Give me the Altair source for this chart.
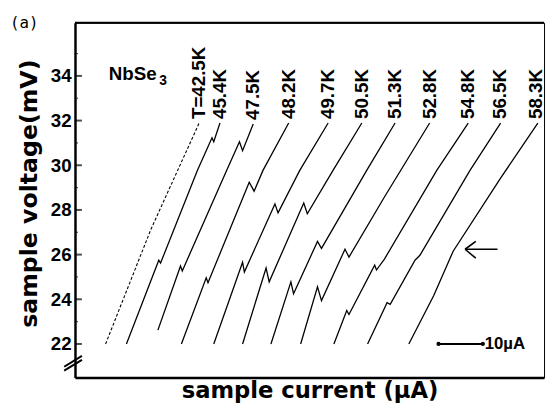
import altair as alt
import pandas as pd

FONT = "Liberation Sans"
TFONT = "DejaVu Sans"

temps = ["T=42.5K", "45.4K", "47.5K", "48.2K", "49.7K", "50.5K",
         "51.3K", "52.8K", "54.8K", "56.5K", "58.3K"]

# sample current (uA, from the left frame) and sample voltage (mV)
I_425 = [6.9, 17.1, 28.0]
V_425 = [22.00, 27.12, 31.89]
I_454 = [11.6, 18.9, 19.3, 27.6, 30.9, 31.3, 32.7]
V_454 = [22.00, 25.75, 25.62, 29.77, 31.23, 31.05, 31.89]
I_475 = [18.7, 23.8, 24.2, 34.2, 37.1, 37.8, 40.2]
V_475 = [22.62, 25.49, 25.27, 29.77, 31.05, 30.65, 31.85]
I_482 = [24.0, 29.6, 30.0, 39.3, 40.4, 42.4, 48.2]
V_482 = [22.00, 24.96, 24.74, 29.24, 28.84, 29.77, 31.89]
I_497 = [31.3, 37.8, 38.2, 45.1, 45.8, 50.7, 57.1]
V_497 = [22.00, 25.66, 25.22, 28.27, 27.87, 29.77, 31.89]
I_505 = [37.8, 43.1, 43.8, 51.6, 52.4, 58.2, 64.7]
V_505 = [22.00, 25.40, 24.78, 28.31, 27.83, 29.77, 31.89]
I_513 = [44.2, 48.7, 49.3, 54.7, 55.6, 65.8, 72.2]
V_513 = [22.00, 24.78, 24.25, 26.59, 26.28, 29.77, 31.89]
I_528 = [50.9, 54.7, 55.6, 60.9, 61.8, 69.8, 80.0]
V_528 = [22.00, 24.56, 23.94, 26.24, 25.89, 28.58, 31.89]
I_548 = [58.4, 61.3, 61.8, 67.6, 68.0, 69.8, 81.6, 88.7]
V_548 = [22.00, 23.50, 23.32, 25.53, 25.31, 25.80, 29.77, 31.89]
I_565 = [66.0, 70.4, 71.1, 76.7, 77.8, 89.1, 96.0]
V_565 = [22.00, 23.85, 23.77, 25.75, 25.97, 29.77, 31.89]
I_583 = [75.3, 80.9, 85.3, 96.0, 104.4]
V_583 = [22.00, 24.16, 26.15, 29.42, 31.89]

currents = [I_425, I_454, I_475, I_482, I_497, I_505, I_513, I_528, I_548, I_565, I_583]
voltages = [V_425, V_454, V_475, V_482, V_497, V_505, V_513, V_528, V_548, V_565, V_583]

y_major = [22, 24, 26, 28, 30, 32, 34]
y_minor = [23, 25, 27, 29, 31, 33, 35]

x_dom = [0, 105.8]
y_dom = [20.50, 36.38]

# annotation anchors (data units)
arrow_I = [88.0, 95.3]
arrow_V = 26.24
arrow_head_I = 90.4
arrow_head_V = [26.59, 25.84]
bar_I = [82.0, 92.0]
bar_V = 22.0
break_I = [-2.44, 1.56]
break_V1 = [20.81, 21.29]
break_V2 = [20.98, 21.47]

rows = []
for t, I, V in zip(temps, currents, voltages):
    for k, (i, v) in enumerate(zip(I, V)):
        rows.append({"T": t, "I": i, "V": v, "k": k})
df = pd.DataFrame(rows)

# temperature labels sit just above each trace's end, kept inside the frame
lab = pd.DataFrame({"T": temps,
                    "I": [min(c[-1], x_dom[1] - 1.9) for c in currents],
                    "V": [v[-1] + 0.18 for v in voltages]})

xs = alt.Scale(domain=x_dom, nice=False, zero=False)
ys = alt.Scale(domain=y_dom, nice=False, zero=False)

W, H = 476, 360

x_axis = alt.Axis(
    title="sample current (µA)", labels=False, ticks=False, grid=False,
    domainWidth=2.5, domainColor="black", titleFont=TFONT, titleFontSize=23,
    titleFontWeight="bold", titleColor="black", titleBaseline="alphabetic", titleY=20.5)
y_axis = alt.Axis(
    title="sample voltage(mV)", values=y_major, ticks=False, tickSize=0, grid=False,
    labelPadding=4, labelFont=FONT, labelFontSize=19, labelFontWeight="bold",
    labelColor="black", domainWidth=2.5, domainColor="black",
    titleFont=TFONT, titleFontSize=24, titleFontWeight="bold", titleColor="black",
    titleBaseline="alphabetic", titleX=-39, titleY=173)

X = alt.X("I:Q", scale=xs, axis=x_axis)
Y = alt.Y("V:Q", scale=ys, axis=y_axis)

solid = alt.Chart(df[df["T"] != temps[0]]).mark_line(
    color="black", strokeWidth=1.3).encode(
    x=X, y=Y, detail="T:N", order="k:Q")

dotted = alt.Chart(df[df["T"] == temps[0]]).mark_line(
    color="black", strokeWidth=1.1, strokeDash=[3, 2]).encode(
    x=X, y=Y, detail="T:N", order="k:Q")

labels = alt.Chart(lab).mark_text(
    angle=270, align="left", baseline="middle", font=FONT, fontSize=19,
    fontWeight="bold", color="black").encode(x=X, y=Y, text="T:N")

major = alt.Chart(pd.DataFrame({"V": y_major})).mark_tick(
    orient="horizontal", size=7, thickness=2, color="black").encode(
    y=Y, x=alt.value(3.5))
minor = alt.Chart(pd.DataFrame({"V": y_minor})).mark_tick(
    orient="horizontal", size=3, thickness=1.2, color="black").encode(
    y=Y, x=alt.value(1.5))

top_border = alt.Chart(pd.DataFrame({"V": [y_dom[1]]})).mark_rule(
    color="black", strokeWidth=2.2).encode(y=Y, x=alt.value(0), x2=alt.value(W))

species = alt.Chart(pd.DataFrame({"I": [7.6], "V": [33.83], "t": ["NbSe"]})).mark_text(
    align="left", baseline="alphabetic", font=FONT, fontSize=19, fontWeight="bold",
    color="black").encode(x=X, y=Y, text="t:N")
species_sub = alt.Chart(pd.DataFrame({"I": [19.0], "V": [33.58], "t": ["3"]})).mark_text(
    align="left", baseline="alphabetic", font=FONT, fontSize=14, fontWeight="bold",
    color="black").encode(x=X, y=Y, text="t:N")

panel = alt.Chart(pd.DataFrame({"t": ["(a)"]})).mark_text(
    align="left", baseline="alphabetic", font="DejaVu Sans Mono", fontSize=16,
    color="black").encode(x=alt.value(-66), y=alt.value(5), text="t:N")

# arrow marking the kink of the 58.3K curve
arrow_df = pd.DataFrame({
    "I": [arrow_I[0], arrow_I[0], arrow_I[0]],
    "I2": [arrow_I[1], arrow_head_I, arrow_head_I],
    "V": [arrow_V, arrow_V, arrow_V],
    "V2": [arrow_V, arrow_head_V[0], arrow_head_V[1]]})
arrow = alt.Chart(arrow_df).mark_rule(color="black", strokeWidth=1.6).encode(
    x=X, x2="I2:Q", y=Y, y2="V2:Q")

# 10 uA scale bar
bar = alt.Chart(pd.DataFrame({"I": [bar_I[0]], "I2": [bar_I[1]], "V": [bar_V]})).mark_rule(
    color="black", strokeWidth=2).encode(x=X, x2="I2:Q", y=Y)
bar_ends = alt.Chart(pd.DataFrame({"I": bar_I, "V": [bar_V, bar_V]})).mark_point(
    shape="circle", filled=True, size=18, color="black", opacity=1).encode(x=X, y=Y)
bar_text = alt.Chart(pd.DataFrame({"I": [bar_I[1] + 0.4], "V": [bar_V], "t": ["10µA"]})).mark_text(
    align="left", baseline="middle", font=FONT, fontSize=17, fontWeight="bold",
    color="black").encode(x=X, y=Y, text="t:N")

# axis break mark
brk = alt.Chart(pd.DataFrame({
    "I": [break_I[0], break_I[0]], "I2": [break_I[1], break_I[1]],
    "V": [break_V1[0], break_V2[0]], "V2": [break_V1[1], break_V2[1]]})).mark_rule(
    color="black", strokeWidth=2).encode(x=X, x2="I2:Q", y=Y, y2="V2:Q")

chart = alt.layer(
    solid, dotted, labels, major, minor, top_border, species, species_sub,
    panel, arrow, bar, bar_ends, bar_text, brk
).properties(
    width=W, height=H,
    padding={"left": 68, "top": 12, "right": 2, "bottom": 26},
    autosize=alt.AutoSizeParams(type="none"),
    background="white",
).configure_view(stroke="black", strokeWidth=1)

chart.save("out.html", embed_options={"renderer": "svg", "actions": False})
